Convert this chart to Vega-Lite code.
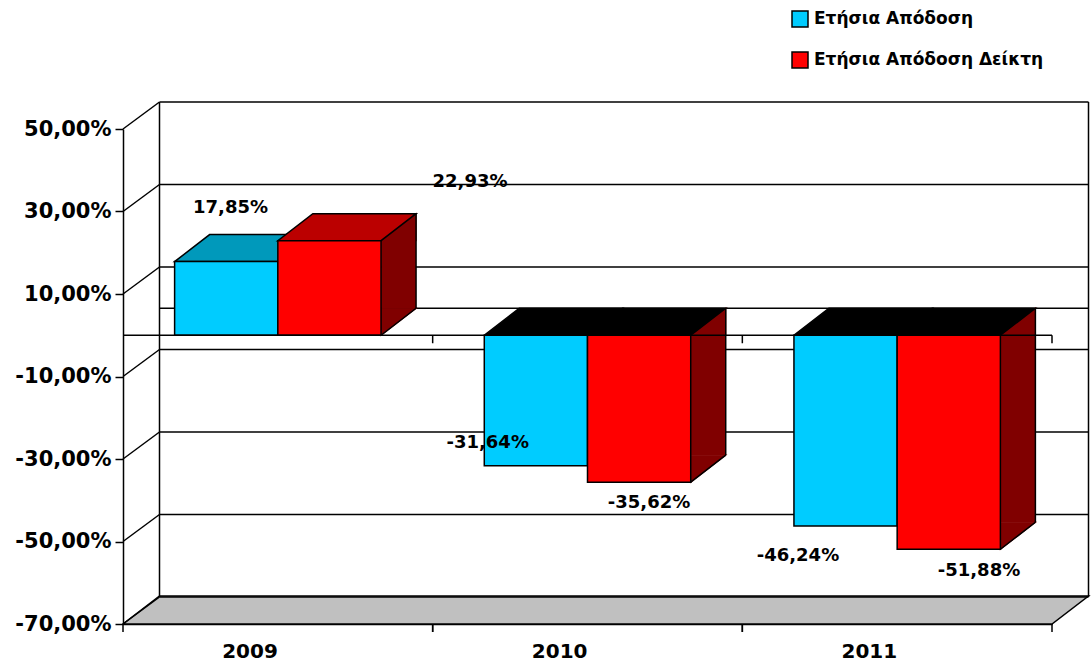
{
  "$schema": "https://vega.github.io/schema/vega-lite/v6.json",
  "width": 929,
  "height": 495,
  "autosize": {"type": "none"},
  "padding": {"left": 123, "top": 129, "right": 39, "bottom": 39},
  "background": "white",
  "config": {
    "view": {"stroke": null},
    "locale": {"number": {"decimal": ",", "thousands": ".", "grouping": [3], "currency": ["", " €"], "minus": "-"}},
    "font": "DejaVu Sans"
  },
  "datasets": {
    "returns": [
      {"year": "2009", "series": "Ετήσια Απόδοση", "v": 0.1785},
      {"year": "2009", "series": "Ετήσια Απόδοση Δείκτη", "v": 0.2293},
      {"year": "2010", "series": "Ετήσια Απόδοση", "v": -0.3164},
      {"year": "2010", "series": "Ετήσια Απόδοση Δείκτη", "v": -0.3562},
      {"year": "2011", "series": "Ετήσια Απόδοση", "v": -0.4624},
      {"year": "2011", "series": "Ετήσια Απόδοση Δείκτη", "v": -0.5188}
    ],
    "levels": [
      {"v": 0.5}, {"v": 0.3}, {"v": 0.1}, {"v": 0}, {"v": -0.1}, {"v": -0.3}, {"v": -0.5}, {"v": -0.7}
    ]
  },
  "data": {"name": "returns"},
  "layer": [
    {
      "data": {"name": "levels"},
      "transform": [{"filter": "datum.v == -0.7"}],
      "mark": {"type": "point", "shape": "M0,0 L929,0 L965.5,-28 L36.5,-28 Z", "size": 4, "filled": true, "fill": "#c0c0c0", "stroke": "black", "strokeWidth": 1.5, "opacity": 1},
      "encoding": {
        "x": {"datum": "2009", "type": "nominal", "bandPosition": 0},
        "y": {"field": "v", "type": "quantitative"}
      }
    },
    {
      "transform": [{"filter": "datum.year == '2009' && datum.series == 'Ετήσια Απόδοση Δείκτη'"}],
      "mark": {"type": "text", "font": "DejaVu Sans", "fontWeight": "bold", "fontSize": 18, "color": "black", "align": "center", "baseline": "middle", "dx": 140.6, "dy": -58.2},
      "encoding": {
        "x": {"field": "year", "type": "nominal"},
        "xOffset": {"field": "series", "type": "nominal"},
        "y": {"field": "v", "type": "quantitative"},
        "text": {"field": "v", "type": "quantitative", "format": ".2%"}
      }
    },
    {
      "data": {"name": "levels"},
      "mark": {"type": "point", "shape": "M36.5,-27 L965.5,-27", "size": 4, "filled": false, "stroke": "black", "strokeWidth": 1.5, "opacity": 1},
      "encoding": {
        "x": {"datum": "2009", "type": "nominal", "bandPosition": 0},
        "y": {"field": "v", "type": "quantitative"}
      }
    },
    {
      "data": {"name": "levels"},
      "transform": [{"filter": "datum.v == 0.5"}],
      "mark": {"type": "rule", "color": "black", "strokeWidth": 1.5, "xOffset": 36.5, "yOffset": -27, "y2Offset": -27},
      "encoding": {
        "x": {"datum": "2009", "type": "nominal", "bandPosition": 0},
        "y": {"field": "v", "type": "quantitative"},
        "y2": {"datum": -0.7}
      }
    },
    {
      "data": {"name": "levels"},
      "transform": [{"filter": "datum.v == 0.5"}],
      "mark": {"type": "rule", "color": "black", "strokeWidth": 1.5, "xOffset": 36.5, "yOffset": -27, "y2Offset": -27},
      "encoding": {
        "x": {"datum": "2011", "type": "nominal", "bandPosition": 1},
        "y": {"field": "v", "type": "quantitative"},
        "y2": {"datum": -0.7}
      }
    },
    {
      "data": {"name": "levels"},
      "transform": [{"filter": "datum.v != 0"}],
      "mark": {"type": "point", "shape": "M0,0 L36.5,-27", "size": 4, "filled": false, "stroke": "black", "strokeWidth": 1.5, "opacity": 1},
      "encoding": {
        "x": {"datum": "2009", "type": "nominal", "bandPosition": 0},
        "y": {"field": "v", "type": "quantitative"}
      }
    },
    {
      "transform": [{"filter": "datum.series == 'Ετήσια Απόδοση Δείκτη' && datum.v > 0"}],
      "mark": {"type": "rule", "strokeWidth": 35, "strokeCap": "butt", "color": "#800000", "xOffset": 17.5, "y2Offset": -27},
      "encoding": {
        "x": {"field": "year", "type": "nominal", "bandPosition": 0.83333},
        "y": {"field": "v", "type": "quantitative"},
        "y2": {"datum": 0}
      }
    },
    {
      "transform": [{"filter": "datum.series == 'Ετήσια Απόδοση Δείκτη' && datum.v < 0"}],
      "mark": {"type": "rule", "strokeWidth": 35, "strokeCap": "butt", "color": "#800000", "xOffset": 17.5, "yOffset": -27},
      "encoding": {
        "x": {"field": "year", "type": "nominal", "bandPosition": 0.83333},
        "y": {"field": "v", "type": "quantitative"},
        "y2": {"datum": 0}
      }
    },
    {
      "transform": [{"filter": "datum.series == 'Ετήσια Απόδοση Δείκτη' && datum.v > 0"}],
      "mark": {"type": "point", "shape": "M51.6,0 L86.6,-27 L86.6,0 Z", "size": 4, "filled": true, "fill": "#800000", "stroke": "#800000", "strokeWidth": 1.2, "opacity": 1},
      "encoding": {
        "x": {"field": "year", "type": "nominal"},
        "xOffset": {"field": "series", "type": "nominal"},
        "y": {"field": "v", "type": "quantitative"}
      }
    },
    {
      "transform": [{"filter": "datum.series == 'Ετήσια Απόδοση Δείκτη' && datum.v < 0"}],
      "mark": {"type": "point", "shape": "M51.6,0 L86.6,-27 L86.6,0 Z", "size": 4, "filled": true, "fill": "#800000", "stroke": "#800000", "strokeWidth": 1.2, "opacity": 1},
      "encoding": {
        "x": {"field": "year", "type": "nominal"},
        "xOffset": {"field": "series", "type": "nominal"},
        "y": {"datum": 0, "type": "quantitative"}
      }
    },
    {
      "transform": [{"filter": "datum.series == 'Ετήσια Απόδοση Δείκτη' && datum.v > 0"}],
      "mark": {"type": "point", "shape": "M51.6,0 L51.6,-27 L86.6,-27 Z", "size": 4, "filled": true, "fill": "#800000", "stroke": "#800000", "strokeWidth": 1.2, "opacity": 1},
      "encoding": {
        "x": {"field": "year", "type": "nominal"},
        "xOffset": {"field": "series", "type": "nominal"},
        "y": {"datum": 0, "type": "quantitative"}
      }
    },
    {
      "transform": [{"filter": "datum.series == 'Ετήσια Απόδοση Δείκτη' && datum.v < 0"}],
      "mark": {"type": "point", "shape": "M51.6,0 L51.6,-27 L86.6,-27 Z", "size": 4, "filled": true, "fill": "#800000", "stroke": "#800000", "strokeWidth": 1.2, "opacity": 1},
      "encoding": {
        "x": {"field": "year", "type": "nominal"},
        "xOffset": {"field": "series", "type": "nominal"},
        "y": {"field": "v", "type": "quantitative"}
      }
    },
    {
      "transform": [{"filter": "datum.series == 'Ετήσια Απόδοση Δείκτη'"}],
      "mark": {"type": "rule", "color": "black", "strokeWidth": 1.5, "xOffset": 35, "yOffset": -27, "y2Offset": -27},
      "encoding": {
        "x": {"field": "year", "type": "nominal", "bandPosition": 0.83333},
        "y": {"field": "v", "type": "quantitative"},
        "y2": {"datum": 0}
      }
    },
    {
      "transform": [{"filter": "datum.series == 'Ετήσια Απόδοση Δείκτη' && datum.v > 0"}],
      "mark": {"type": "point", "shape": "M51.6,0 L86.6,-27", "size": 4, "filled": false, "stroke": "black", "strokeWidth": 1.5, "opacity": 1},
      "encoding": {
        "x": {"field": "year", "type": "nominal"},
        "xOffset": {"field": "series", "type": "nominal"},
        "y": {"datum": 0, "type": "quantitative"}
      }
    },
    {
      "transform": [{"filter": "datum.series == 'Ετήσια Απόδοση Δείκτη' && datum.v < 0"}],
      "mark": {"type": "point", "shape": "M51.6,0 L86.6,-27", "size": 4, "filled": false, "stroke": "black", "strokeWidth": 1.5, "opacity": 1},
      "encoding": {
        "x": {"field": "year", "type": "nominal"},
        "xOffset": {"field": "series", "type": "nominal"},
        "y": {"field": "v", "type": "quantitative"}
      }
    },
    {
      "transform": [{"filter": "datum.series == 'Ετήσια Απόδοση' && datum.v > 0"}],
      "mark": {"type": "point", "shape": "M-51.6,0 L51.6,0 L86.6,-27 L-16.6,-27 Z", "size": 4, "filled": true, "fill": "#0099bb", "stroke": "black", "strokeWidth": 1.5, "opacity": 1},
      "encoding": {
        "x": {"field": "year", "type": "nominal"},
        "xOffset": {"field": "series", "type": "nominal"},
        "y": {"field": "v", "type": "quantitative"}
      }
    },
    {
      "transform": [{"filter": "datum.v < 0"}],
      "mark": {"type": "point", "shape": "M-51.6,0 L51.6,0 L86.6,-27 L-16.6,-27 Z", "size": 4, "filled": true, "fill": "black", "stroke": "black", "strokeWidth": 1.5, "opacity": 1},
      "encoding": {
        "x": {"field": "year", "type": "nominal"},
        "xOffset": {"field": "series", "type": "nominal"},
        "y": {"datum": 0, "type": "quantitative"}
      }
    },
    {
      "transform": [{"filter": "datum.series == 'Ετήσια Απόδοση Δείκτη' && datum.v > 0"}],
      "mark": {"type": "point", "shape": "M-51.6,0 L51.6,0 L86.6,-27 L-16.6,-27 Z", "size": 4, "filled": true, "fill": "#bb0000", "stroke": "black", "strokeWidth": 1.5, "opacity": 1},
      "encoding": {
        "x": {"field": "year", "type": "nominal"},
        "xOffset": {"field": "series", "type": "nominal"},
        "y": {"field": "v", "type": "quantitative"}
      }
    },
    {
      "mark": {"type": "bar", "stroke": "black", "strokeWidth": 1.5, "opacity": 1},
      "encoding": {
        "x": {
          "field": "year", "type": "nominal",
          "scale": {"domain": ["2009", "2010", "2011"], "paddingInner": 0, "paddingOuter": 0},
          "axis": {"title": null, "ticks": false, "domainColor": "black", "domainWidth": 1.5, "labelFont": "DejaVu Sans", "labelFontWeight": "bold", "labelFontSize": 20, "labelColor": "black", "labelPadding": 27, "labelAngle": 0}
        },
        "xOffset": {
          "field": "series", "type": "nominal",
          "scale": {"domain": ["Ετήσια Απόδοση", "Ετήσια Απόδοση Δείκτη"], "paddingInner": 0, "paddingOuter": 0.5}
        },
        "y": {
          "field": "v", "type": "quantitative",
          "scale": {"domain": [-0.7, 0.5], "nice": false, "zero": false},
          "axis": {"title": null, "values": [-0.7, -0.5, -0.3, -0.1, 0.1, 0.3, 0.5], "format": ".2%", "grid": false, "domainColor": "black", "domainWidth": 1.5, "tickColor": "black", "tickWidth": 1.5, "tickSize": 8, "labelFont": "DejaVu Sans", "labelFontWeight": "bold", "labelFontSize": 21, "labelColor": "black", "labelPadding": 4}
        },
        "y2": {"datum": 0},
        "fill": {
          "field": "series", "type": "nominal",
          "scale": {"domain": ["Ετήσια Απόδοση", "Ετήσια Απόδοση Δείκτη"], "range": ["#00ccff", "#ff0000"]},
          "legend": {"orient": "none", "legendX": 668, "legendY": -119, "title": null, "padding": 0, "symbolType": "square", "symbolSize": 256, "symbolStrokeColor": "black", "symbolStrokeWidth": 1.5, "symbolOpacity": 1, "labelFont": "DejaVu Sans", "labelFontWeight": "bold", "labelFontSize": 17, "labelColor": "black", "labelOffset": 5, "rowPadding": 19, "labelLimit": 400}
        }
      }
    },
    {
      "data": {"name": "levels"},
      "transform": [{"filter": "datum.v == 0"}],
      "mark": {"type": "rule", "color": "black", "strokeWidth": 1.5},
      "encoding": {"y": {"field": "v", "type": "quantitative"}}
    },
    {
      "transform": [{"filter": "datum.series == 'Ετήσια Απόδοση'"}],
      "mark": {"type": "rule", "color": "black", "strokeWidth": 1.5, "y2Offset": 8},
      "encoding": {
        "x": {"field": "year", "type": "nominal", "bandPosition": 1},
        "y": {"datum": 0, "type": "quantitative"},
        "y2": {"datum": 0}
      }
    },
    {
      "transform": [{"filter": "datum.series == 'Ετήσια Απόδοση'"}],
      "mark": {"type": "rule", "color": "black", "strokeWidth": 1.5, "y2Offset": 8},
      "encoding": {
        "x": {"field": "year", "type": "nominal", "bandPosition": 0},
        "y": {"datum": -0.7, "type": "quantitative"},
        "y2": {"datum": -0.7}
      }
    },
    {
      "transform": [{"filter": "datum.series == 'Ετήσια Απόδοση'"}],
      "mark": {"type": "rule", "color": "black", "strokeWidth": 1.5, "y2Offset": 8},
      "encoding": {
        "x": {"field": "year", "type": "nominal", "bandPosition": 1},
        "y": {"datum": -0.7, "type": "quantitative"},
        "y2": {"datum": -0.7}
      }
    },
    {
      "transform": [{"filter": "datum.year == '2009' && datum.series == 'Ετήσια Απόδοση'"}],
      "mark": {"type": "text", "font": "DejaVu Sans", "fontWeight": "bold", "fontSize": 18, "color": "black", "align": "center", "baseline": "middle", "dx": 4.3, "dy": -54},
      "encoding": {
        "x": {"field": "year", "type": "nominal"},
        "xOffset": {"field": "series", "type": "nominal"},
        "y": {"field": "v", "type": "quantitative"},
        "text": {"field": "v", "type": "quantitative", "format": ".2%"}
      }
    },
    {
      "transform": [{"filter": "datum.year == '2010' && datum.series == 'Ετήσια Απόδοση'"}],
      "mark": {"type": "text", "font": "DejaVu Sans", "fontWeight": "bold", "fontSize": 18, "color": "black", "align": "center", "baseline": "middle", "dx": -48.2, "dy": -22.5},
      "encoding": {
        "x": {"field": "year", "type": "nominal"},
        "xOffset": {"field": "series", "type": "nominal"},
        "y": {"field": "v", "type": "quantitative"},
        "text": {"field": "v", "type": "quantitative", "format": ".2%"}
      }
    },
    {
      "transform": [{"filter": "datum.year == '2010' && datum.series == 'Ετήσια Απόδοση Δείκτη'"}],
      "mark": {"type": "text", "font": "DejaVu Sans", "fontWeight": "bold", "fontSize": 18, "color": "black", "align": "center", "baseline": "middle", "dx": 9.9, "dy": 20.5},
      "encoding": {
        "x": {"field": "year", "type": "nominal"},
        "xOffset": {"field": "series", "type": "nominal"},
        "y": {"field": "v", "type": "quantitative"},
        "text": {"field": "v", "type": "quantitative", "format": ".2%"}
      }
    },
    {
      "transform": [{"filter": "datum.year == '2011' && datum.series == 'Ετήσια Απόδοση'"}],
      "mark": {"type": "text", "font": "DejaVu Sans", "fontWeight": "bold", "fontSize": 18, "color": "black", "align": "center", "baseline": "middle", "dx": -47.6, "dy": 30},
      "encoding": {
        "x": {"field": "year", "type": "nominal"},
        "xOffset": {"field": "series", "type": "nominal"},
        "y": {"field": "v", "type": "quantitative"},
        "text": {"field": "v", "type": "quantitative", "format": ".2%"}
      }
    },
    {
      "transform": [{"filter": "datum.year == '2011' && datum.series == 'Ετήσια Απόδοση Δείκτη'"}],
      "mark": {"type": "text", "font": "DejaVu Sans", "fontWeight": "bold", "fontSize": 18, "color": "black", "align": "center", "baseline": "middle", "dx": 30.2, "dy": 21.7},
      "encoding": {
        "x": {"field": "year", "type": "nominal"},
        "xOffset": {"field": "series", "type": "nominal"},
        "y": {"field": "v", "type": "quantitative"},
        "text": {"field": "v", "type": "quantitative", "format": ".2%"}
      }
    }
  ]
}
